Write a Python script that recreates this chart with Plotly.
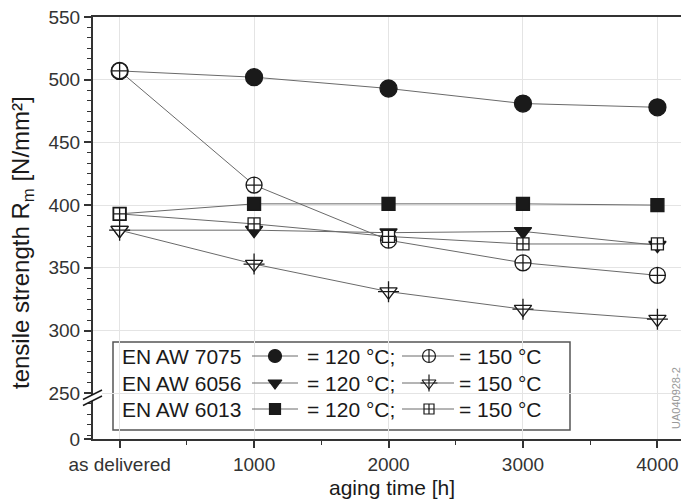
import plotly.graph_objects as go

# ---------------- data ----------------
aging_time = [0, 1000, 2000, 3000, 4000]
x_tick_labels = ["as delivered", "1000", "2000", "3000", "4000"]
y_tick_values = [250, 300, 350, 400, 450, 500, 550]

aw7075_120 = [507, 502, 493, 481, 478]
aw7075_150 = [507, 416, 372, 354, 344]
aw6056_120 = [380, 380, 378, 379, 368]
aw6056_150 = [380, 353, 331, 317, 309]
aw6013_120 = [393, 401, 401, 401, 400]
aw6013_150 = [393, 385, 375, 369, 369]

alloys = ["EN AW 7075", "EN AW 6056", "EN AW 6013"]

# ---------------- geometry ----------------
W, H = 681, 502
ML, MR, MT, MB = 93, 0, 17, 63
PW, PH = W - ML - MR, H - MT - MB
Y_TOP = 550
PX_PER_UNIT = 62.7 / 50.0
Y_BOTTOM = Y_TOP - PH / PX_PER_UNIT          # where "0" sits (broken axis)
X_LEFT = -198
X_RIGHT = X_LEFT + PW / 0.13445


def px(x):
    return (x - ML) / PW


def py(y):
    return (H - MB - y) / PH


FONT = "Liberation Sans, Arial, sans-serif"
INK = "#1a1a1a"
LINE = "#6a6a6a"

fig = go.Figure()

series = [
    (aw7075_120, "circle", 17, INK, "7075 120"),
    (aw7075_150, "circle-cross", 16, "white", "7075 150"),
    (aw6056_120, "triangle-down", 15, INK, "6056 120"),
    (aw6056_150, "triangle-down", 15, "white", "6056 150"),
    (aw6013_120, "square", 13, INK, "6013 120"),
    (aw6013_150, "square-cross", 12, "white", "6013 150"),
]

# connecting lines first
for vals, sym, size, col, name in series:
    fig.add_trace(go.Scatter(x=aging_time, y=vals, mode="lines",
                             line=dict(color=LINE, width=1),
                             showlegend=False, hoverinfo="skip"))
# markers on top
for vals, sym, size, col, name in series:
    fig.add_trace(go.Scatter(x=aging_time, y=vals, mode="markers", name=name,
                             marker=dict(symbol=sym, size=size, color=col,
                                         line=dict(color=INK, width=1.3)),
                             showlegend=False, cliponaxis=False))
# cross for the 6056 / 150 °C symbol
fig.add_trace(go.Scatter(x=aging_time, y=aw6056_150, mode="markers",
                         marker=dict(symbol="cross-thin-open", size=15, color=INK,
                                     line=dict(color=INK, width=1.3)),
                         showlegend=False, hoverinfo="skip", cliponaxis=False))

# ---------------- legend (drawn on a pixel overlay axis) ----------------
row_y = [356, 383, 409]
key1 = (252, 298, 275)
key2 = (402, 454, 429)
leg_sym = [
    (("circle", 13, INK), ("circle-cross", 13, "white"), False),
    (("triangle-down", 12, INK), ("triangle-down", 12, "white"), True),
    (("square", 11, INK), ("square-cross", 10, "white"), False),
]
for ry, (s1, s2, cross) in zip(row_y, leg_sym):
    for (x0, x1, xm), (sym, size, col) in ((key1, s1), (key2, s2)):
        fig.add_trace(go.Scatter(x=[x0, x1], y=[ry, ry], mode="lines",
                                 line=dict(color=LINE, width=1),
                                 xaxis="x2", yaxis="y2", showlegend=False,
                                 hoverinfo="skip"))
        fig.add_trace(go.Scatter(x=[xm], y=[ry], mode="markers",
                                 marker=dict(symbol=sym, size=size, color=col,
                                             line=dict(color=INK, width=1.2)),
                                 xaxis="x2", yaxis="y2", showlegend=False,
                                 hoverinfo="skip"))
    if cross:
        fig.add_trace(go.Scatter(x=[key2[2]], y=[ry], mode="markers",
                                 marker=dict(symbol="cross-thin-open", size=12, color=INK,
                                             line=dict(color=INK, width=1.2)),
                                 xaxis="x2", yaxis="y2", showlegend=False,
                                 hoverinfo="skip"))

annotations = []
for ry, name in zip(row_y, alloys):
    for xl, txt in ((120, name), (305, "= 120 °C;"), (457, "= 150 °C")):
        annotations.append(dict(x=px(xl), y=py(ry), xref="paper", yref="paper",
                                text=txt, showarrow=False, xanchor="left",
                                yanchor="middle",
                                font=dict(family=FONT, size=21, color=INK)))

# axis titles
annotations.append(dict(x=px(392), y=py(488), xref="paper", yref="paper",
                        text="aging time [h]", showarrow=False,
                        xanchor="center", yanchor="middle",
                        font=dict(family=FONT, size=21, color=INK)))
annotations.append(dict(x=px(22), y=py(243), xref="paper", yref="paper",
                        text="tensile strength R<sub>m</sub> [N/mm²]",
                        showarrow=False, textangle=-90,
                        xanchor="center", yanchor="middle",
                        font=dict(family=FONT, size=24, color=INK)))
# watermark
annotations.append(dict(x=px(676), y=py(398), xref="paper", yref="paper",
                        text="UA040928-2", showarrow=False, textangle=-90,
                        xanchor="center", yanchor="middle",
                        font=dict(family=FONT, size=11, color="#999999")))

shapes = [
    # legend box
    dict(type="rect", xref="paper", yref="paper",
         x0=px(113), x1=px(570), y0=py(430), y1=py(342),
         line=dict(color="#555555", width=1.5), fillcolor="white",
         layer="between"),
    # axis break mark
    dict(type="path", xref="paper", yref="paper",
         path="M %f,%f L %f,%f L %f,%f L %f,%f Z" % (
             px(84), py(399), px(102), py(390), px(102), py(396), px(84), py(405)),
         line=dict(width=0), fillcolor="white", layer="above"),
    dict(type="line", xref="paper", yref="paper",
         x0=px(83), y0=py(399.5), x1=px(102), y1=py(390),
         line=dict(color=INK, width=1.5), layer="above"),
    dict(type="line", xref="paper", yref="paper",
         x0=px(83), y0=py(405.5), x1=px(102), y1=py(396),
         line=dict(color=INK, width=1.5), layer="above"),
]

fig.update_layout(
    width=W, height=H,
    margin=dict(l=ML, r=MR, t=MT, b=MB, pad=0),
    paper_bgcolor="white", plot_bgcolor="white",
    font=dict(family=FONT, size=19, color="#333333"),
    annotations=annotations, shapes=shapes,
    xaxis=dict(range=[X_LEFT, X_RIGHT], tickvals=aging_time,
               ticktext=x_tick_labels, showline=True, mirror=True,
               linecolor="#333333", linewidth=2, ticks="outside", ticklen=7,
               tickwidth=1.5, tickcolor="#333333",
               showgrid=True, gridcolor="#e4e4e4", gridwidth=1, zeroline=False,
               tickfont=dict(family=FONT, size=19, color="#333333"),
               minor=dict(dtick=500, tick0=0, ticks="outside", ticklen=4,
                          tickwidth=1.3, tickcolor="#333333", showgrid=False)),
    yaxis=dict(range=[Y_BOTTOM, Y_TOP],
               tickvals=[Y_BOTTOM] + y_tick_values,
               ticktext=["0"] + [str(v) for v in y_tick_values],
               showline=True, mirror=False, linecolor="#333333", linewidth=2,
               ticks="outside", ticklen=7, tickwidth=1.5, tickcolor="#333333",
               showgrid=True, gridcolor="#e4e4e4", gridwidth=1, zeroline=False,
               tickfont=dict(family=FONT, size=19, color="#333333"),
               minor=dict(dtick=50 / 6, tick0=250, ticks="outside", ticklen=4,
                          tickwidth=1.3, tickcolor="#333333", showgrid=False)),
    xaxis2=dict(range=[ML, W - MR], overlaying="x", visible=False,
                anchor="y2", fixedrange=True),
    yaxis2=dict(range=[H - MB, MT], overlaying="y", visible=False,
                anchor="x2", fixedrange=True),
)

fig.write_html(
    "out.html",
    config={"displayModeBar": False},
    post_script="document.body.style.margin='0';document.body.style.overflow='hidden';",
)
